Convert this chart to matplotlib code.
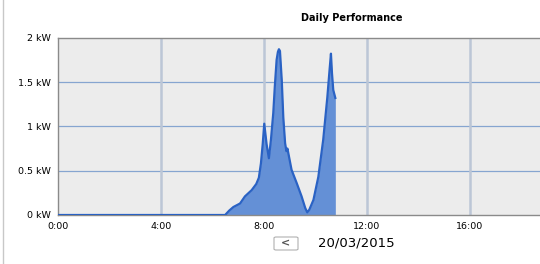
import numpy as np
import matplotlib
matplotlib.use('Agg')
import matplotlib.pyplot as plt
from matplotlib.patches import FancyBboxPatch
from matplotlib.lines import Line2D

# power readings (hour of day, kW)
hours = [0.0, 6.49, 6.65, 6.81, 7.07, 7.26, 7.52, 7.7, 7.8, 7.88, 7.95, 8.01, 8.1,
         8.19, 8.27, 8.36, 8.42, 8.49, 8.54, 8.58, 8.62, 8.69, 8.75, 8.82, 8.87,
         8.91, 8.97, 9.07, 9.27, 9.46, 9.6, 9.68, 9.76, 9.92, 10.11, 10.3, 10.46,
         10.55, 10.6, 10.64, 10.69, 10.77]
kw = [0.0, 0.0, 0.05, 0.09, 0.13, 0.21, 0.28, 0.35, 0.42, 0.58, 0.8, 1.03, 0.8,
      0.64, 0.85, 1.15, 1.45, 1.75, 1.84, 1.87, 1.85, 1.52, 1.1, 0.81, 0.72,
      0.75, 0.66, 0.51, 0.36, 0.21, 0.08, 0.03, 0.06, 0.17, 0.43, 0.85, 1.33,
      1.65, 1.82, 1.6, 1.41, 1.32]

xticks = [0, 4, 8, 12, 16]
xlabels = ['0:00', '4:00', '8:00', '12:00', '16:00']
yticks = [0, 0.5, 1, 1.5, 2]
ylabels = ['0 kW', '0.5 kW', '1 kW', '1.5 kW', '2 kW']

fig = plt.figure(figsize=(5.4, 2.64), dpi=100)
fig.patch.set_facecolor('white')
ax = fig.add_axes([58/540, 49/264, 482/540, 177.3/264])
ax.set_facecolor('#ececec')

ax.fill_between(hours, kw, 0, color='#6490d6', lw=0, zorder=2)
ax.plot(hours, kw, color='#2a62c4', lw=1.6, zorder=3, solid_joinstyle='round')

ax.set_xlim(0, 482/25.75)
ax.set_ylim(0, 2)
ax.set_xticks(xticks)
ax.set_xticklabels(xlabels, fontsize=6.8)
ax.set_yticks(yticks)
ax.set_yticklabels(ylabels, fontsize=6.8)
ax.tick_params(length=0, pad=5)

for y in yticks[1:4]:
    ax.axhline(y, color='#86a5d0', lw=0.9, zorder=1)
for x in xticks[1:]:
    ax.axvline(x, color='#bcc6d6', lw=1.8, zorder=1)

for s in ['top', 'left', 'bottom']:
    ax.spines[s].set_color('#8a8a8a')
    ax.spines[s].set_linewidth(1.0)
ax.spines['right'].set_visible(False)

fig.text(352/540, 1 - 18/264, 'Daily Performance', fontsize=7, fontweight='bold',
         ha='center', va='center')

# outer frame line on the left
fig.add_artist(Line2D([2.5/540, 2.5/540], [0, 1], color='#c8c8c8', lw=1))

# navigation button and date
btn = FancyBboxPatch((274/540, 1 - 250/264), 24/540, 13/264,
                     boxstyle='round,pad=0,rounding_size=0.004',
                     transform=fig.transFigure, facecolor='white',
                     edgecolor='#b0b0b0', lw=0.8)
fig.add_artist(btn)
fig.text(286/540, 1 - 243.5/264, '<', fontsize=8, fontweight='bold',
         color='#555555', ha='center', va='center')
fig.text(356/540, 1 - 243/264, '20/03/2015', fontsize=9.5,
         ha='center', va='center')

fig.savefig('out.png', dpi=100)
